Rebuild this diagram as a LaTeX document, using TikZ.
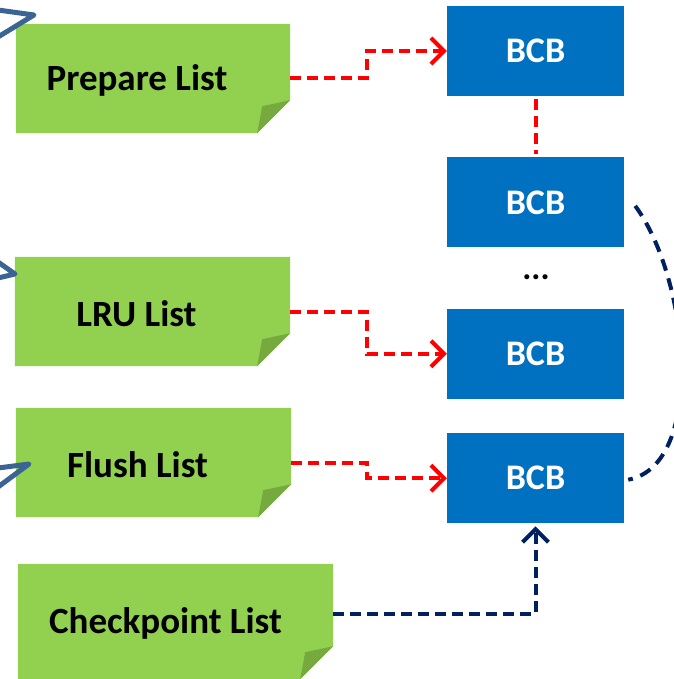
\documentclass[tikz,border=0pt]{standalone}
\usepackage{fontspec}
\setmainfont{Carlito}
\usetikzlibrary{positioning,arrows.meta,backgrounds}
\definecolor{notegreen}{HTML}{92D050}
\definecolor{foldgreen}{HTML}{76A93E}
\definecolor{bcbblue}{HTML}{0070C0}
\definecolor{navy}{HTML}{002060}
\definecolor{stubblue}{HTML}{3B6494}
\tikzset{
  note/.style={minimum height=109pt, inner sep=0pt},
  notetext/.style={font=\fontsize{37}{44}\selectfont\bfseries, yshift=-2pt},
  bcb/.style={fill=bcbblue, text=white, minimum width=177pt, minimum height=90pt, inner sep=0pt, font=\fontsize{36}{43}\selectfont\bfseries},
  redlink/.style={draw=red, line width=4pt, dash pattern=on 11pt off 6pt},
  navylink/.style={draw=navy, line width=4pt, dash pattern=on 11pt off 6pt},
  openhead/.style={-{Straight Barb[length=13pt,width=26pt]}},
  stub/.style={draw=stubblue, line width=5pt, line cap=round, line join=round}
}
\begin{document}
\begin{tikzpicture}[x=1pt, y=-1pt]
  \useasboundingbox (0,0) rectangle (673,679);
  % the lists
  \node[note, minimum width=274pt, label={[notetext,xshift=-16pt]center:Prepare List}] (prep) at (153,78.5) {};
  \node[note, minimum width=275pt, label={[notetext,xshift=-16pt]center:LRU List}] (lru) at (152.5,311.5) {};
  \node[note, minimum width=275pt, label={[notetext,xshift=-16pt]center:Flush List}] (flush) at (153.5,462.5) {};
  \node[note, minimum width=315pt, minimum height=115pt, label={[notetext,xshift=-10pt]center:Checkpoint List}] (ckpt) at (175.5,621.5) {};
  \begin{scope}[on background layer]
    \foreach \n in {prep,lru,flush,ckpt}{
      \fill[notegreen] (\n.north west) -- (\n.north east) -- ([yshift=33pt]\n.south east) -- ([xshift=-33pt]\n.south east) -- (\n.south west) -- cycle;
      \fill[foldgreen] ([yshift=33pt]\n.south east) -- ([xshift=-28pt,yshift=27pt]\n.south east) -- ([xshift=-33pt]\n.south east) -- cycle;
    }
  \end{scope}
  % the blocks
  \node[bcb] (bcb1) at (535.5,51) {BCB};
  \node[bcb, below=61pt of bcb1] (bcb2) {BCB};
  \node[bcb, below=61pt of bcb2] (bcb3) {BCB};
  \node[bcb, below=34pt of bcb3] (bcb4) {BCB};
  \node[font=\fontsize{34}{40}\selectfont\bfseries, inner sep=0pt] (dots) at (536,277) {...};
  % links
  \draw[redlink, openhead] (prep.east) -- ++(77,0) |- (bcb1.west);
  \draw[redlink, shorten <=3pt, shorten >=3pt] (bcb1) -- (bcb2);
  \draw[redlink, openhead] (lru.east) -- ++(77,0) |- (bcb3.west);
  \draw[redlink, openhead] (flush.east) -- ++(76,0) |- (bcb4.west);
  \draw[navylink, openhead] ([yshift=7.5pt]ckpt.east) -| ([yshift=-3pt]bcb4.south);
  \draw[navylink, dash pattern=on 12pt off 8pt] ([xshift=11pt,yshift=-3.5pt]bcb2.east) .. controls (690,280) and (706,465) .. ([xshift=4pt,yshift=-1.5pt]bcb4.east);
  % arrows coming in from the left
  \draw[stub] (-2,10) -- (34,15) -- (-2,37);
  \draw[stub] (-2,262) -- (15,274) -- (-2,278);
  \draw[stub] (-2,468) -- (29,464) -- (-2,487);
\end{tikzpicture}
\end{document}
